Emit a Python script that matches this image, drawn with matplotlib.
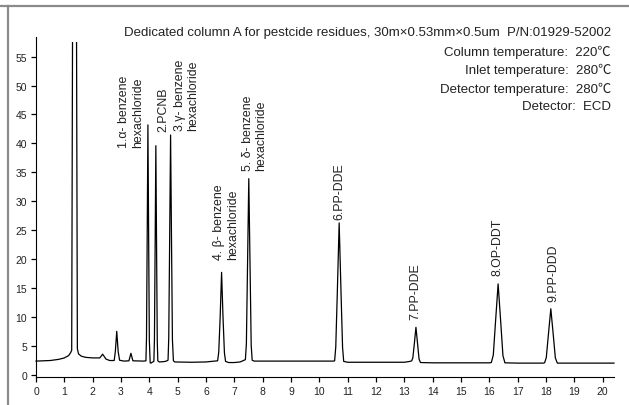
import matplotlib
matplotlib.use("Agg")
import matplotlib.pyplot as plt
from matplotlib.patches import Rectangle
from matplotlib.lines import Line2D

# traced chromatogram (retention time in min, detector signal)
time = [0.0, 0.5, 0.8, 1.0, 1.15, 1.22, 1.26, 1.29, 1.36, 1.43, 1.46, 1.5, 1.6, 1.75, 2.0,
        2.25, 2.30, 2.35, 2.40, 2.47, 2.6, 2.76, 2.80, 2.85, 2.90, 2.95, 3.1, 3.28, 3.35, 3.42,
        3.8, 3.88, 3.90, 3.923, 3.95, 3.977, 4.0, 4.03, 4.06, 4.1,
        4.16, 4.18, 4.203, 4.23, 4.257, 4.28, 4.30, 4.35, 4.5, 4.6,
        4.66, 4.685, 4.715, 4.75, 4.785, 4.815, 4.85, 4.9, 5.5, 6.0, 6.3,
        6.41, 6.45, 6.50, 6.55, 6.60, 6.65, 6.69, 6.8, 7.0, 7.2, 7.3,
        7.39, 7.425, 7.463, 7.51, 7.557, 7.595, 7.63, 7.7, 9.0, 10.5,
        10.54, 10.58, 10.635, 10.70, 10.765, 10.82, 10.86, 11.0, 13.0, 13.2,
        13.26, 13.30, 13.35, 13.41, 13.47, 13.52, 13.57, 14.0, 16.0,
        16.07, 16.14, 16.215, 16.31, 16.405, 16.48, 16.55, 17.0, 17.9,
        17.95, 18.01, 18.08, 18.17, 18.26, 18.33, 18.4, 20.4]
signal = [2.35, 2.45, 2.65, 2.9, 3.3, 3.8, 4.2, 60, 130, 60, 4.5, 3.6, 3.2, 3.0, 2.9,
          2.9, 3.2, 3.55, 3.2, 2.7, 2.45, 2.45, 4.0, 7.5, 4.0, 2.5, 2.35, 2.4, 3.7, 2.4,
          2.35, 2.4, 6.4, 22.8, 43.2, 22.8, 6.0, 2.05, 2.0, 2.15,
          2.3, 6.0, 21.0, 39.6, 21.0, 5.8, 2.4, 2.2, 2.25, 2.35,
          2.5, 6.3, 22.0, 41.45, 22.0, 6.0, 2.4, 2.2, 2.15, 2.2, 2.35,
          2.4, 3.9, 10.0, 17.7, 10.0, 3.8, 2.3, 2.1, 2.1, 2.2, 2.4,
          2.6, 5.3, 18.0, 33.9, 18.0, 5.1, 2.5, 2.35, 2.35, 2.35,
          2.4, 4.8, 14.3, 26.25, 14.3, 4.7, 2.3, 2.15, 2.15, 2.3,
          2.4, 2.9, 5.2, 8.2, 5.2, 2.7, 2.1, 2.05, 2.05,
          2.1, 3.4, 8.9, 15.7, 8.9, 3.3, 2.05, 2.0, 2.0,
          2.05, 2.95, 6.7, 11.4, 6.7, 2.9, 2.0, 2.0]

peak_labels = ["1.\u03b1- benzene\nhexachloride", "2.PCNB", "3.\u03b3- benzene\nhexachloride",
               "4. \u03b2- benzene\nhexachloride", "5. \u03b4- benzene\nhexachloride",
               "6.PP-DDE", "7.PP-DDE", "8.OP-DDT", "9.PP-DDD"]
label_x = [3.35, 4.48, 5.31, 6.70, 7.71, 10.72, 13.37, 16.29, 18.25]
label_y = [39.4, 42.1, 42.3, 20.0, 35.4, 26.9, 9.55, 17.3, 12.8]

info_lines = ["Dedicated column A for pestcide residues, 30m\u00d70.53mm\u00d70.5um  P/N:01929-52002",
              "Column temperature:  220\u2103",
              "Inlet temperature:  280\u2103",
              "Detector temperature:  280\u2103",
              "Detector:  ECD"]

fam = ["Liberation Sans", "Noto Sans CJK SC", "DejaVu Sans"]
plt.rcParams["font.family"] = fam
txt_col = "#222222"

fig = plt.figure(figsize=(6.29, 4.06), dpi=100)
ax = fig.add_axes([36 / 629, 28 / 406, 578 / 629, 340 / 406])

line, = ax.plot(time, signal, color="black", lw=0.9)
clip = Rectangle((-1, -5), 30, 62.5, transform=ax.transData)
line.set_clip_path(clip)

ax.set_xlim(0, 20.4)
ax.set_ylim(-0.4, 58.4)
ax.set_xticks(range(0, 21))
ax.set_yticks(range(0, 56, 5))
ax.spines["top"].set_visible(False)
ax.spines["right"].set_visible(False)
ax.tick_params(direction="out", length=3.5, width=0.9, labelsize=7.5, colors="black",
               labelcolor=txt_col, pad=3)

for lab, x, y in zip(peak_labels, label_x, label_y):
    ax.text(x, y, lab, rotation=90, ha="center", va="bottom", multialignment="left",
            fontsize=8.9, color=txt_col, linespacing=1.2)

info_y = [33, 52, 70.5, 89, 107.5]
for s, y in zip(info_lines, info_y):
    fig.text(611 / 629, 1 - y / 406, s, ha="right", va="center", fontsize=9.5, color=txt_col)

# grey frame of the original figure
fig.add_artist(Line2D([0, 1], [1 - 7 / 406, 1 - 7 / 406], color="#8a8a8a", lw=1.6))
fig.add_artist(Line2D([8 / 629, 8 / 629], [0, 1 - 7 / 406], color="#8a8a8a", lw=1.6))

fig.savefig("out.png", dpi=100)
